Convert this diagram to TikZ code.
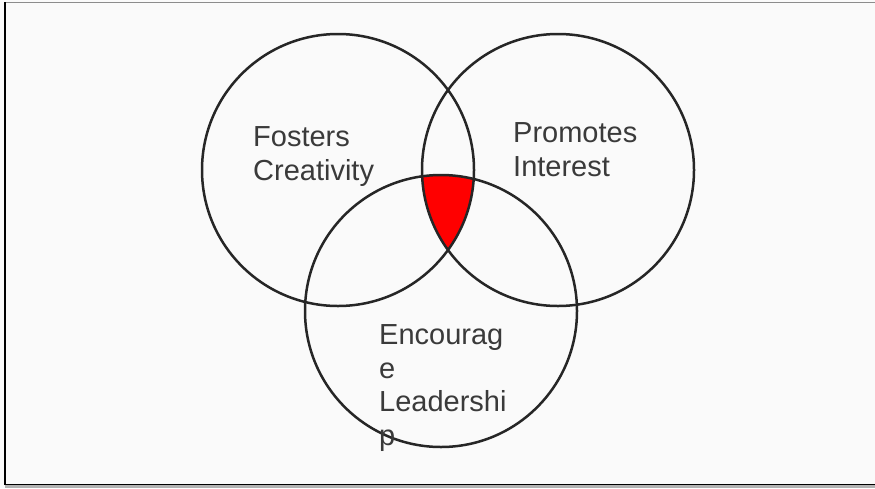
\documentclass[tikz,border=0pt]{standalone}
\usepackage{fontspec}
\setmainfont{Liberation Sans}
\definecolor{textgray}{HTML}{3A3A3A}
\definecolor{paper}{HTML}{FAFAFA}
\begin{document}
\begin{tikzpicture}[x=1pt,y=-1pt]

      \useasboundingbox (0,0) rectangle (875,488);
      \fill[paper] (0,0) rectangle (875,488);

      % frame
      \draw[black!45, line width=1.5pt] (4,2.5) -- (875,2.5);
      \fill[black!30] (5,485) rectangle (875,488);
      \draw[black, line width=1.5pt] (5,2) -- (5,484.5) -- (875,484.5);

      \coordinate (l) at (338,170);
      \coordinate (r) at (558,170);
      \coordinate (b) at (441,311);

      % common part
      \begin{scope}
        \clip (l) circle (136);
        \clip (r) circle (136);
        \fill[red] (b) circle (136);
      \end{scope}

      \begin{scope}[every path/.style={draw, line width=2.5pt, black!85}]
        \path (l) circle (136);
        \path (r) circle (136);
        \path (b) circle (136);
      \end{scope}

      \begin{scope}[every node/.style={anchor=north west, inner sep=0pt, align=left, text=textgray,
                    font=\fontsize{29}{33.5}\selectfont}]
        \node (fc) at (253,126.5) {Fosters\\Creativity};
        \node (pi) at (513,122.5) {Promotes\\Interest};
        \node (el) at (379,324.5) {Encourag\\e\\Leadershi\\p};
      \end{scope}

    \end{tikzpicture}
\end{document}
